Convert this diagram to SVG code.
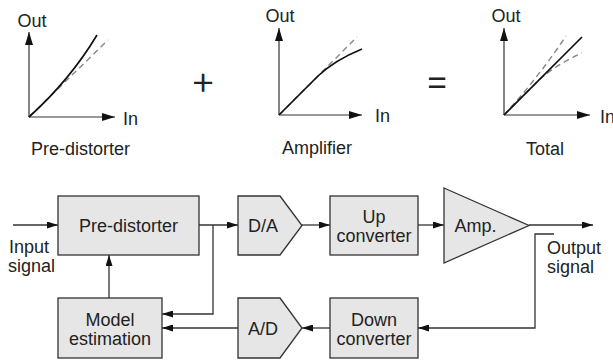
<svg xmlns="http://www.w3.org/2000/svg" width="613" height="361" viewBox="0 0 613 361">
<style>
text{font-family:"Liberation Sans",Arial,sans-serif;font-size:18px;fill:#222}
.mid{text-anchor:middle}
.box{fill:#e6e6e6;stroke:#333;stroke-width:1.3}
.ln{fill:none;stroke:#333;stroke-width:1.3}
.ax{fill:none;stroke:#333;stroke-width:1.2}
.cv{fill:none;stroke:#111;stroke-width:1.7}
.ds{fill:none;stroke:#888;stroke-width:1.4;stroke-dasharray:6 4}
.op{font-family:Inter,"Liberation Sans",sans-serif;font-weight:300;font-size:40px}
</style>
<defs>
<marker id="a" markerUnits="userSpaceOnUse" markerWidth="11" markerHeight="7" refX="11" refY="3.5" orient="auto"><path d="M0,0 L11,3.5 L0,7 z" fill="#111"/></marker>
<marker id="ax" markerUnits="userSpaceOnUse" markerWidth="13" markerHeight="8" refX="13" refY="4" orient="auto"><path d="M0,0 L13,4 L0,8 z" fill="#111"/></marker>
</defs>
<g id="chart-predistorter">
<path class="ax" d="M29,117 V32" marker-end="url(#ax)"/>
<path class="ax" d="M29,117 H115" marker-end="url(#ax)"/>
<path class="ds" d="M29,117 L108,40"/>
<path class="cv" d="M29,117 Q70,80 97,35"/>
<text x="32" y="27" class="mid">Out</text>
<text x="123" y="125">In</text>
<text x="80.5" y="155" class="mid">Pre-distorter</text>
</g>
<text id="plus" x="203" y="94" class="mid op">+</text>
<g id="chart-amplifier">
<path class="ax" d="M279,115 V28" marker-end="url(#ax)"/>
<path class="ax" d="M279,115 H362" marker-end="url(#ax)"/>
<path class="ds" d="M279,115 L357,37"/>
<path class="cv" d="M279,115 L318,76 Q335,60 362,49"/>
<text x="280" y="22" class="mid">Out</text>
<text x="375" y="122">In</text>
<text x="317" y="154" class="mid">Amplifier</text>
</g>
<text id="equals" x="437" y="94" class="mid op">=</text>
<g id="chart-total">
<path class="ax" d="M504,115 V28" marker-end="url(#ax)"/>
<path class="ax" d="M504,115 H590" marker-end="url(#ax)"/>
<path class="ds" d="M504,115 Q538,78 566,36"/>
<path class="ds" d="M504,115 L537,82 Q552,67 582,53"/>
<path class="cv" d="M504,115 L582,37"/>
<text x="506" y="22" class="mid">Out</text>
<text x="600" y="123">In</text>
<text x="545" y="155" class="mid">Total</text>
</g>
<g id="connectors">
<path class="ln" d="M13,225 H58" marker-end="url(#a)"/>
<path class="ln" d="M199,225 H238" marker-end="url(#a)"/>
<path class="ln" d="M213,225 V314 H162" marker-end="url(#a)"/>
<path class="ln" d="M109,298 V255" marker-end="url(#a)"/>
<path class="ln" d="M238,328 H162" marker-end="url(#a)"/>
<path class="ln" d="M330,328 H302" marker-end="url(#a)"/>
<path class="ln" d="M302,225 H330" marker-end="url(#a)"/>
<path class="ln" d="M418,225 H444" marker-end="url(#a)"/>
<path class="ln" d="M529,225 H593" marker-end="url(#a)"/>
<path class="ln" d="M554,234 H535 V328 H418" marker-end="url(#a)"/>
</g>
<g id="input-label">
<text x="9" y="253">Input</text>
<text x="8" y="272">signal</text>
</g>
<g id="output-label">
<text x="547" y="254">Output</text>
<text x="547" y="273">signal</text>
</g>
<g id="predistorter">
<rect class="box" x="58" y="196" width="141" height="59"/>
<text x="128.5" y="232" class="mid">Pre-distorter</text>
</g>
<g id="da">
<path class="box" d="M238,196 H280 L302,225.5 L280,255 H238 Z"/>
<text x="263" y="232" class="mid">D/A</text>
</g>
<g id="upconverter">
<rect class="box" x="330" y="196" width="88" height="59"/>
<text x="374" y="223" class="mid">Up</text>
<text x="374" y="242" class="mid">converter</text>
</g>
<g id="amp">
<path class="box" d="M444,188 L529,225.5 L444,263 Z"/>
<text x="475.5" y="232" class="mid">Amp.</text>
</g>
<g id="model">
<rect class="box" x="58" y="298" width="104" height="60"/>
<text x="110" y="326" class="mid">Model</text>
<text x="110" y="345" class="mid">estimation</text>
</g>
<g id="ad">
<path class="box" d="M238,298 H280 L302,328 L280,358 H238 Z"/>
<text x="263" y="335" class="mid">A/D</text>
</g>
<g id="downconverter">
<rect class="box" x="330" y="298" width="88" height="60"/>
<text x="374" y="326" class="mid">Down</text>
<text x="374" y="345" class="mid">converter</text>
</g>
</svg>
